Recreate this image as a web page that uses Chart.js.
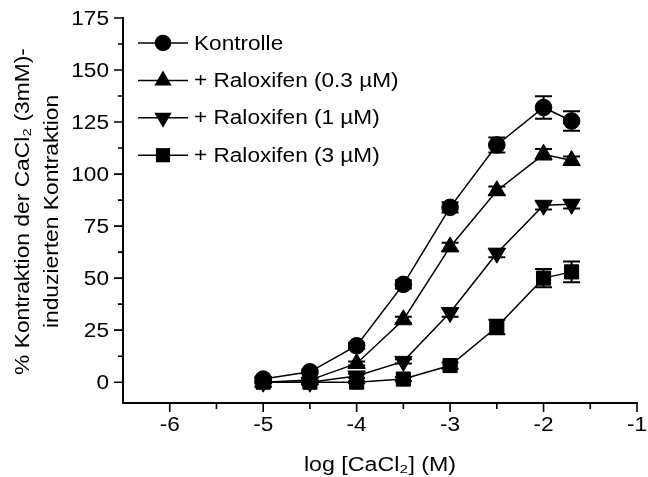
<!DOCTYPE html>
<html>
<head>
<meta charset="utf-8">
<script src="https://cdn.jsdelivr.net/npm/chart.js@4.4.0/dist/chart.umd.min.js"></script>
<style>
  html, body { margin: 0; padding: 0; background: #fff; }
  #wrap { width: 648px; height: 477px; }
</style>
</head>
<body>
<div id="wrap"><canvas id="kontraktion"></canvas></div>
<script>
// log [CaCl2] (M) - x positions of all series
const logCa = [-5, -4.5, -4, -3.5, -3, -2.5, -2, -1.7];

// % Kontraktion (mean) and SEM
const kontrolle    = [1.5, 5, 17.5, 47, 84, 114, 132, 125.5];
const kontrolleErr = [1, 1, 1.5, 2, 2.5, 3.6, 5.4, 4.7];
const ral03        = [0, 1, 9, 30, 65, 92, 109.5, 106.5];
const ral03Err     = [0.5, 0.5, 1, 1.5, 2, 2, 2.5, 2];
const ral1         = [0, 0, 3, 10, 33.5, 62, 85, 85.5];
const ral1Err      = [0.5, 0.5, 1, 1, 2, 2, 2, 2];
const ral3         = [0, 0, 0, 1.5, 8, 26.5, 50, 53];
const ral3Err      = [0.5, 0.5, 0.5, 1, 1.5, 3.5, 4.4, 5];

const seriesNames = ['Kontrolle', '+ Raloxifen (0.3 µM)', '+ Raloxifen (1 µM)', '+ Raloxifen (3 µM)'];

// axis ticks and titles
const xMajorTicks = [-6, -5, -4, -3, -2, -1];
const xMinorTicks = [-5.5, -4.5, -3.5, -2.5, -1.5];
const yMajorTicks = [0, 25, 50, 75, 100, 125, 150, 175];
const yMinorTicks = [12.5, 37.5, 62.5, 87.5, 112.5, 137.5, 162.5];
const xTitle = 'log [CaCl₂] (M)';
const yTitle = ['% Kontraktion der CaCl₂ (3mM)-', 'induzierten Kontraktion'];

const FONT = 'Arial, "Liberation Sans", sans-serif';
const TEXT_FONT = '20px ' + FONT;
const STRETCH = 1.13;   // the original lettering is a bit wider than plain Arial

function pts(ys) {
  return logCa.map((x, i) => ({ x: x, y: ys[i] }));
}

const markers = [
  { style: 'circle', radius: 8.3, rotation: 0 },
  { style: 'triangle', radius: 10, rotation: 0 },
  { style: 'triangle', radius: 10, rotation: 180 },
  { style: 'rect', radius: 10, rotation: 0 }
];
const allValues = [kontrolle, ral03, ral1, ral3];
const allErrors = [kontrolleErr, ral03Err, ral1Err, ral3Err];

const datasets = allValues.map((vals, i) => ({
  label: seriesNames[i],
  data: pts(vals),
  showLine: true,
  borderColor: '#000',
  borderWidth: 1.5,
  backgroundColor: '#000',
  pointStyle: markers[i].style,
  pointRadius: markers[i].radius,
  pointHoverRadius: markers[i].radius,
  pointRotation: markers[i].rotation,
  pointBackgroundColor: '#000',
  pointBorderColor: '#000',
  pointBorderWidth: 1,
  errors: allErrors[i]
}));

// text drawn a little wider, rotation optional
function wideText(ctx, str, x, y, align, sx, rot) {
  ctx.save();
  ctx.translate(x, y);
  if (rot) ctx.rotate(rot);
  ctx.scale(sx, 1);
  ctx.textAlign = align;
  ctx.textBaseline = 'middle';
  ctx.fillText(str, 0, 0);
  ctx.restore();
}

// error bars, drawn under the markers
const errorBars = {
  id: 'errorBars',
  beforeDatasetsDraw(chart) {
    const ctx = chart.ctx;
    const xs = chart.scales.x, ys = chart.scales.y;
    ctx.save();
    ctx.strokeStyle = '#000';
    ctx.lineWidth = 2;
    chart.data.datasets.forEach(ds => {
      ds.data.forEach((p, i) => {
        const e = ds.errors[i];
        if (!e) return;
        const px = xs.getPixelForValue(p.x);
        const top = ys.getPixelForValue(p.y + e);
        const bot = ys.getPixelForValue(p.y - e);
        ctx.beginPath();
        ctx.moveTo(px, top); ctx.lineTo(px, bot);
        ctx.moveTo(px - 8.5, top); ctx.lineTo(px + 8.5, top);
        ctx.moveTo(px - 8.5, bot); ctx.lineTo(px + 8.5, bot);
        ctx.stroke();
      });
    });
    ctx.restore();
  }
};

// outward tick marks, tick labels and axis titles
const axisText = {
  id: 'axisText',
  afterDraw(chart) {
    const ctx = chart.ctx;
    const xs = chart.scales.x, ys = chart.scales.y;
    const area = chart.chartArea;
    ctx.save();
    ctx.strokeStyle = '#000';
    ctx.lineWidth = 1.6;
    ctx.beginPath();
    xMajorTicks.forEach(v => { const p = xs.getPixelForValue(v); ctx.moveTo(p, area.bottom); ctx.lineTo(p, area.bottom + 9); });
    xMinorTicks.forEach(v => { const p = xs.getPixelForValue(v); ctx.moveTo(p, area.bottom); ctx.lineTo(p, area.bottom + 6); });
    yMajorTicks.forEach(v => { const p = ys.getPixelForValue(v); ctx.moveTo(area.left, p); ctx.lineTo(area.left - 9, p); });
    yMinorTicks.forEach(v => { const p = ys.getPixelForValue(v); ctx.moveTo(area.left, p); ctx.lineTo(area.left - 5, p); });
    ctx.stroke();

    ctx.fillStyle = '#000';
    ctx.font = TEXT_FONT;
    xMajorTicks.forEach(v => wideText(ctx, String(v), xs.getPixelForValue(v), area.bottom + 22, 'center', STRETCH));
    yMajorTicks.forEach(v => wideText(ctx, String(v), area.left - 14, ys.getPixelForValue(v) + 1, 'right', STRETCH));

    const midX = (area.left + area.right) / 2;
    const midY = (area.top + area.bottom) / 2;
    wideText(ctx, xTitle, midX, area.bottom + 62, 'center', 1.16);
    wideText(ctx, yTitle[0], 23, midY + 1, 'center', 1.14, -Math.PI / 2);
    wideText(ctx, yTitle[1], 52, midY + 1, 'center', 1.14, -Math.PI / 2);
    ctx.restore();
  }
};

// legend with line + marker like the original figure
const lineLegend = {
  id: 'lineLegend',
  afterDraw(chart) {
    const ctx = chart.ctx;
    ctx.save();
    ctx.fillStyle = '#000';
    ctx.strokeStyle = '#000';
    ctx.font = TEXT_FONT;
    seriesNames.forEach((name, i) => {
      const y = 43 + i * 37.4;
      ctx.lineWidth = 1.5;
      ctx.beginPath();
      ctx.moveTo(138, y); ctx.lineTo(188, y);
      ctx.stroke();
      const m = markers[i];
      const cx = 163;
      ctx.beginPath();
      if (m.style === 'circle') {
        ctx.arc(cx, y, m.radius, 0, Math.PI * 2);
      } else if (m.style === 'rect') {
        const s = Math.SQRT1_2 * m.radius;
        ctx.rect(cx - s, y - s, 2 * s, 2 * s);
      } else {
        let rad = m.rotation * Math.PI / 180;
        for (let k = 0; k < 3; k++) {
          const px = cx + Math.sin(rad) * m.radius;
          const py = y - Math.cos(rad) * m.radius;
          if (k === 0) ctx.moveTo(px, py); else ctx.lineTo(px, py);
          rad += 2 * Math.PI / 3;
        }
        ctx.closePath();
      }
      ctx.fill();
      wideText(ctx, name, 194, y + 1, 'left', STRETCH);
    });
    ctx.restore();
  }
};

const ctx = document.getElementById('kontraktion').getContext('2d');
new Chart(ctx, {
  type: 'scatter',
  data: { datasets: datasets },
  options: {
    responsive: true,
    maintainAspectRatio: false,
    animation: false,
    layout: { padding: { left: 0, right: 8, top: 18, bottom: 0 } },
    plugins: {
      legend: { display: false },
      tooltip: { enabled: false }
    },
    scales: {
      x: {
        type: 'linear',
        min: -6.5,
        max: -1,
        afterFit: (s) => { s.height = 74; },
        border: { display: true, color: '#000', width: 2 },
        grid: { drawOnChartArea: false, drawTicks: false },
        ticks: { display: false, stepSize: 0.5 }
      },
      y: {
        min: -10,
        max: 175,
        afterFit: (s) => { s.width = 123; },
        border: { display: true, color: '#000', width: 2 },
        grid: { drawOnChartArea: false, drawTicks: false },
        ticks: { display: false, stepSize: 12.5 }
      }
    }
  },
  plugins: [errorBars, axisText, lineLegend]
});
</script>
</body>
</html>
